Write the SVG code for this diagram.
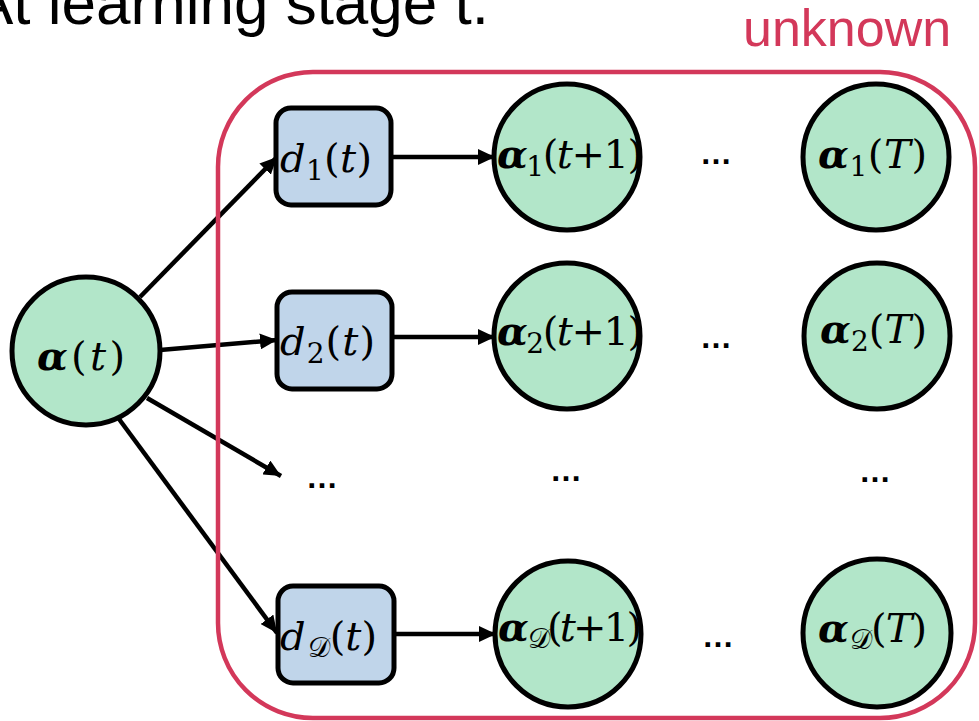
<svg xmlns="http://www.w3.org/2000/svg" width="979" height="721" viewBox="0 0 979 721">
<defs>
<marker id="ah" markerUnits="userSpaceOnUse" markerWidth="18" markerHeight="16" refX="17" refY="8" orient="auto">
<path d="M0,0 L17,8 L0,16 z" fill="#000"/>
</marker>
<style>
.title{font-family:"Liberation Sans",Arial,sans-serif;font-size:62px;fill:#000}
.unk{font-family:"Liberation Sans",Arial,sans-serif;font-size:52px;fill:#D3385A}
.frame{fill:none;stroke:#D3385A;stroke-width:4.5}
.circ{fill:#B2E6C9;stroke:#000;stroke-width:5}
.box{fill:#C0D5EA;stroke:#000;stroke-width:5}
.lbl{font-family:"DejaVu Serif","Liberation Serif",serif;font-size:40px;fill:#000}
.b{font-weight:bold;font-style:italic}
.i{font-style:italic}
.sub{font-size:28px}
.dots{font-family:"Liberation Sans",Arial,sans-serif;font-size:32px;font-weight:bold;fill:#000;text-anchor:middle}
.conn line{stroke:#000;stroke-width:4.5;marker-end:url(#ah)}
</style>
</defs>
<text class="title" x="-28" y="24">At learning stage t.</text>
<text class="unk" x="743" y="46">unknown</text>
<g id="connectors" class="conn">
<line x1="140" y1="297" x2="277" y2="157"/>
<line x1="160" y1="350" x2="277" y2="340"/>
<line x1="147" y1="398" x2="281" y2="476"/>
<line x1="119" y1="419" x2="277" y2="633"/>
<line x1="392" y1="157" x2="495" y2="157"/>
<line x1="393" y1="337" x2="495" y2="337"/>
<line x1="395" y1="634" x2="496" y2="634"/>
</g>
<rect id="unknown-region" class="frame" x="218" y="72" width="757" height="646" rx="95" ry="95"/>
<g id="alpha-t"><circle class="circ" cx="86" cy="351" r="74"/>
<text class="lbl" x="37" y="370" textLength="88"><tspan class="b">α</tspan>(<tspan class="i">t</tspan>)</text></g>
<g id="d1"><rect class="box" x="276" y="108" width="115" height="97" rx="15"/>
<text class="lbl" x="280" y="172" textLength="92"><tspan class="i">d</tspan><tspan class="sub" dy="8">1</tspan><tspan dy="-8">(</tspan><tspan class="i">t</tspan>)</text></g>
<g id="d2"><rect class="box" x="277" y="292" width="115" height="97" rx="15"/>
<text class="lbl" x="280" y="355" textLength="95"><tspan class="i">d</tspan><tspan class="sub" dy="8">2</tspan><tspan dy="-8">(</tspan><tspan class="i">t</tspan>)</text></g>
<g id="dD"><rect class="box" x="278" y="586" width="116" height="97" rx="15"/>
<text class="lbl" x="280" y="650" textLength="97"><tspan class="i">d</tspan><tspan class="sub" dy="7" dx="2">𝒟</tspan><tspan dy="-7">(</tspan><tspan class="i">t</tspan>)</text></g>
<g id="a1-t1"><circle class="circ" cx="567" cy="157" r="73"/>
<text class="lbl" x="497" y="168" textLength="146"><tspan class="b">α</tspan><tspan class="sub" dy="8">1</tspan><tspan dy="-8">(</tspan><tspan class="i">t</tspan>+1)</text></g>
<g id="a1-T"><circle class="circ" cx="876" cy="157" r="73"/>
<text class="lbl" x="818" y="168" textLength="109"><tspan class="b">α</tspan><tspan class="sub" dy="8">1</tspan><tspan dy="-8">(</tspan><tspan class="i">T</tspan>)</text></g>
<g id="a2-t1"><circle class="circ" cx="567" cy="336" r="73"/>
<text class="lbl" x="497" y="345" textLength="146"><tspan class="b">α</tspan><tspan class="sub" dy="8">2</tspan><tspan dy="-8">(</tspan><tspan class="i">t</tspan>+1)</text></g>
<g id="a2-T"><circle class="circ" cx="877" cy="336" r="73"/>
<text class="lbl" x="820" y="343" textLength="107"><tspan class="b">α</tspan><tspan class="sub" dy="8">2</tspan><tspan dy="-8">(</tspan><tspan class="i">T</tspan>)</text></g>
<g id="aD-t1"><circle class="circ" cx="568" cy="634" r="73"/>
<text class="lbl" x="498" y="641" textLength="144"><tspan class="b">α</tspan><tspan class="sub" dy="7" dx="2">𝒟</tspan><tspan dy="-7">(</tspan><tspan class="i">t</tspan>+1)</text></g>
<g id="aD-T"><circle class="circ" cx="877" cy="633" r="74"/>
<text class="lbl" x="818" y="642" textLength="109"><tspan class="b">α</tspan><tspan class="sub" dy="7" dx="2">𝒟</tspan><tspan dy="-7">(</tspan><tspan class="i">T</tspan>)</text></g>
<g id="ellipses">
<text class="dots" x="716" y="164">…</text>
<text class="dots" x="716" y="348">…</text>
<text class="dots" x="718" y="647">…</text>
<text class="dots" x="322" y="488">…</text>
<text class="dots" x="566" y="481">…</text>
<text class="dots" x="875" y="482">…</text>
</g>
</svg>
